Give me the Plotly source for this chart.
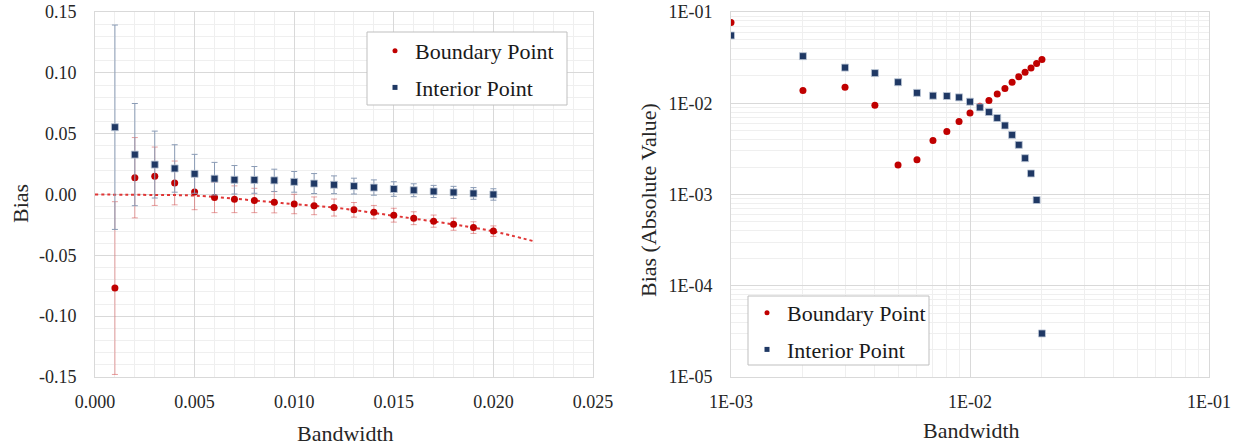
import plotly.graph_objects as go
import numpy as np

# ---------------- data ----------------
bandwidth = [0.001, 0.002, 0.003, 0.004, 0.005, 0.006, 0.007, 0.008, 0.009, 0.010,
             0.011, 0.012, 0.013, 0.014, 0.015, 0.016, 0.017, 0.018, 0.019, 0.020]
boundary_bias = [-0.0769, 0.0138, 0.0150, 0.0095, 0.0021, -0.0024, -0.0039, -0.0049, -0.0063, -0.0078,
                 -0.0093, -0.0107, -0.0126, -0.0145, -0.0170, -0.0195, -0.0219, -0.0244, -0.0272, -0.0301]
boundary_err = [0.071, 0.033, 0.024, 0.018, 0.0146, 0.0125, 0.011, 0.010, 0.0088, 0.008,
                0.0073, 0.007, 0.006, 0.0055, 0.0057, 0.0053, 0.005, 0.005, 0.0048, 0.0043]
interior_bias = [0.0553, 0.0328, 0.0246, 0.0214, 0.0170, 0.0130, 0.0121, 0.0120, 0.0116, 0.0104,
                 0.0090, 0.0080, 0.0069, 0.0057, 0.0045, 0.0035, 0.0025, 0.0017, 0.00087, 0.00003]
interior_err = [0.084, 0.042, 0.0275, 0.0195, 0.016, 0.0134, 0.0117, 0.011, 0.0092, 0.0085,
                0.0082, 0.0073, 0.0065, 0.0063, 0.006, 0.0053, 0.005, 0.005, 0.0048, 0.0047]
# trend line (dotted)
trend_x = [0.000, 0.003, 0.005, 0.008, 0.010, 0.012, 0.015, 0.018, 0.020, 0.022]
trend_y = [0.000, -0.0004, -0.0009, -0.0049, -0.0080, -0.0107, -0.0175, -0.0246, -0.0303, -0.0383]

left_xticks = [0.000, 0.005, 0.010, 0.015, 0.020, 0.025]
left_xticktext = ["0.000", "0.005", "0.010", "0.015", "0.020", "0.025"]
left_yticks = [-0.15, -0.10, -0.05, 0.00, 0.05, 0.10, 0.15]
left_yticktext = ["-0.15", "-0.10", "-0.05", "0.00", "0.05", "0.10", "0.15"]
right_xticks = [1e-3, 1e-2, 1e-1]
right_xticktext = ["1E-03", "1E-02", "1E-01"]
right_yticks = [1e-5, 1e-4, 1e-3, 1e-2, 1e-1]
right_yticktext = ["1E-05", "1E-04", "1E-03", "1E-02", "1E-01"]

# ---------------- style ----------------
W, H = 1239, 447
RED = "#c00000"
NAVY = "#1f3864"
RED_ERR = "rgba(214,80,80,0.55)"
NAVY_ERR = "#8a9bb5"
FONT = "Liberation Serif"
TXT = "#262626"
GRID = "#d9d9d9"
MINOR = "#efefef"

def px_x(p):
    return p / W

def px_y(p):
    return 1 - p / H

fig = go.Figure()

# left plot
fig.add_trace(go.Scatter(x=trend_x, y=trend_y, mode="lines", line=dict(color="#e03535", width=2, dash="dot", shape="spline"),
                         showlegend=False, hoverinfo="skip", xaxis="x", yaxis="y"))
fig.add_trace(go.Scatter(x=bandwidth, y=boundary_bias, mode="markers",
                         marker=dict(symbol="circle", size=7, color=RED),
                         error_y=dict(type="data", array=boundary_err, color=RED_ERR, thickness=1, width=3),
                         showlegend=False, xaxis="x", yaxis="y"))
fig.add_trace(go.Scatter(x=bandwidth, y=interior_bias, mode="markers",
                         marker=dict(symbol="square", size=7, color=NAVY, line=dict(width=1, color="rgba(190,200,215,0.8)")),
                         error_y=dict(type="data", array=interior_err, color=NAVY_ERR, thickness=1, width=3),
                         showlegend=False, xaxis="x", yaxis="y"))

# right plot
fig.add_trace(go.Scatter(x=bandwidth, y=np.abs(boundary_bias), mode="markers",
                         marker=dict(symbol="circle", size=7, color=RED),
                         showlegend=False, xaxis="x2", yaxis="y2"))
fig.add_trace(go.Scatter(x=bandwidth, y=np.abs(interior_bias), mode="markers",
                         marker=dict(symbol="square", size=7, color=NAVY, line=dict(width=1, color="rgba(190,200,215,0.8)")),
                         showlegend=False, xaxis="x2", yaxis="y2"))

# legend entries
for lg in ["legend", "legend2"]:
    fig.add_trace(go.Scatter(x=[None], y=[None], mode="markers", name="Boundary Point",
                             marker=dict(symbol="circle", size=5, color=RED), legend=lg, legendgroup="b" + lg,
                             xaxis="x" if lg == "legend" else "x2", yaxis="y" if lg == "legend" else "y2"))
    fig.add_trace(go.Scatter(x=[None], y=[None], mode="markers", name="Interior Point",
                             marker=dict(symbol="square", size=5, color=NAVY), legend=lg, legendgroup="i" + lg,
                             xaxis="x" if lg == "legend" else "x2", yaxis="y" if lg == "legend" else "y2"))

tickfont = dict(family=FONT, size=18, color=TXT)
common = dict(showline=True, linecolor=GRID, linewidth=1, mirror=True, showgrid=True, gridcolor=GRID, gridwidth=1,
              zeroline=False, tickfont=tickfont, ticks="outside", tickcolor="rgba(0,0,0,0)", automargin=False)

legend_common = dict(bgcolor="rgba(0,0,0,0)", borderwidth=0, font=dict(family=FONT, size=22, color="#1a1a1a"),
                     xanchor="left", yanchor="top", tracegroupgap=5, itemclick=False)

fig.update_layout(
    width=W, height=H, margin=dict(l=0, r=0, t=0, b=0),
    paper_bgcolor="white", plot_bgcolor="white",
    font=dict(family=FONT),
    xaxis=dict(domain=[px_x(95), px_x(593)], range=[0, 0.025], tickvals=left_xticks, ticktext=left_xticktext,
               ticklen=8, minor=dict(dtick=0.001, showgrid=True, gridcolor=MINOR), anchor="y", **common),
    yaxis=dict(domain=[px_y(377), px_y(12)], range=[-0.15, 0.15], tickvals=left_yticks, ticktext=left_yticktext,
               ticklen=14, minor=dict(dtick=0.01, showgrid=True, gridcolor=MINOR), anchor="x", **common),
    xaxis2=dict(domain=[px_x(731), px_x(1209)], type="log", range=[-3, -1], tickvals=right_xticks, ticktext=right_xticktext,
                ticklen=8, minor=dict(dtick="D1", showgrid=True, gridcolor=MINOR), anchor="y2", **common),
    yaxis2=dict(domain=[px_y(377), px_y(12)], type="log", range=[-5, -1], tickvals=right_yticks, ticktext=right_yticktext,
                ticklen=14, minor=dict(dtick="D1", showgrid=True, gridcolor=MINOR), anchor="x2", **common),
    legend=dict(x=px_x(375), y=px_y(30), **legend_common),
    legend2=dict(x=px_x(747), y=px_y(292), **legend_common),
)

# legend boxes
fig.add_shape(type="rect", xref="paper", yref="paper", x0=px_x(367), x1=px_x(567), y0=px_y(105), y1=px_y(32),
              line=dict(color="#bfbfbf", width=1), fillcolor="white", layer="above")
fig.add_shape(type="rect", xref="paper", yref="paper", x0=px_x(748), x1=px_x(929), y0=px_y(365), y1=px_y(296),
              line=dict(color="#bfbfbf", width=1), fillcolor="white", layer="above")

titlefont = dict(family=FONT, size=22, color=TXT)
fig.add_annotation(text="Bias", xref="paper", yref="paper", x=px_x(20), y=px_y(203), textangle=-90,
                   showarrow=False, font=titlefont, xanchor="center", yanchor="middle")
fig.add_annotation(text="Bandwidth", xref="paper", yref="paper", x=px_x(345), y=px_y(433),
                   showarrow=False, font=titlefont, xanchor="center", yanchor="middle")
fig.add_annotation(text="Bias (Absolute Value)", xref="paper", yref="paper", x=px_x(648), y=px_y(200), textangle=-90,
                   showarrow=False, font=titlefont, xanchor="center", yanchor="middle")
fig.add_annotation(text="Bandwidth", xref="paper", yref="paper", x=px_x(971), y=px_y(430),
                   showarrow=False, font=titlefont, xanchor="center", yanchor="middle")

fig.write_html("out.html")
